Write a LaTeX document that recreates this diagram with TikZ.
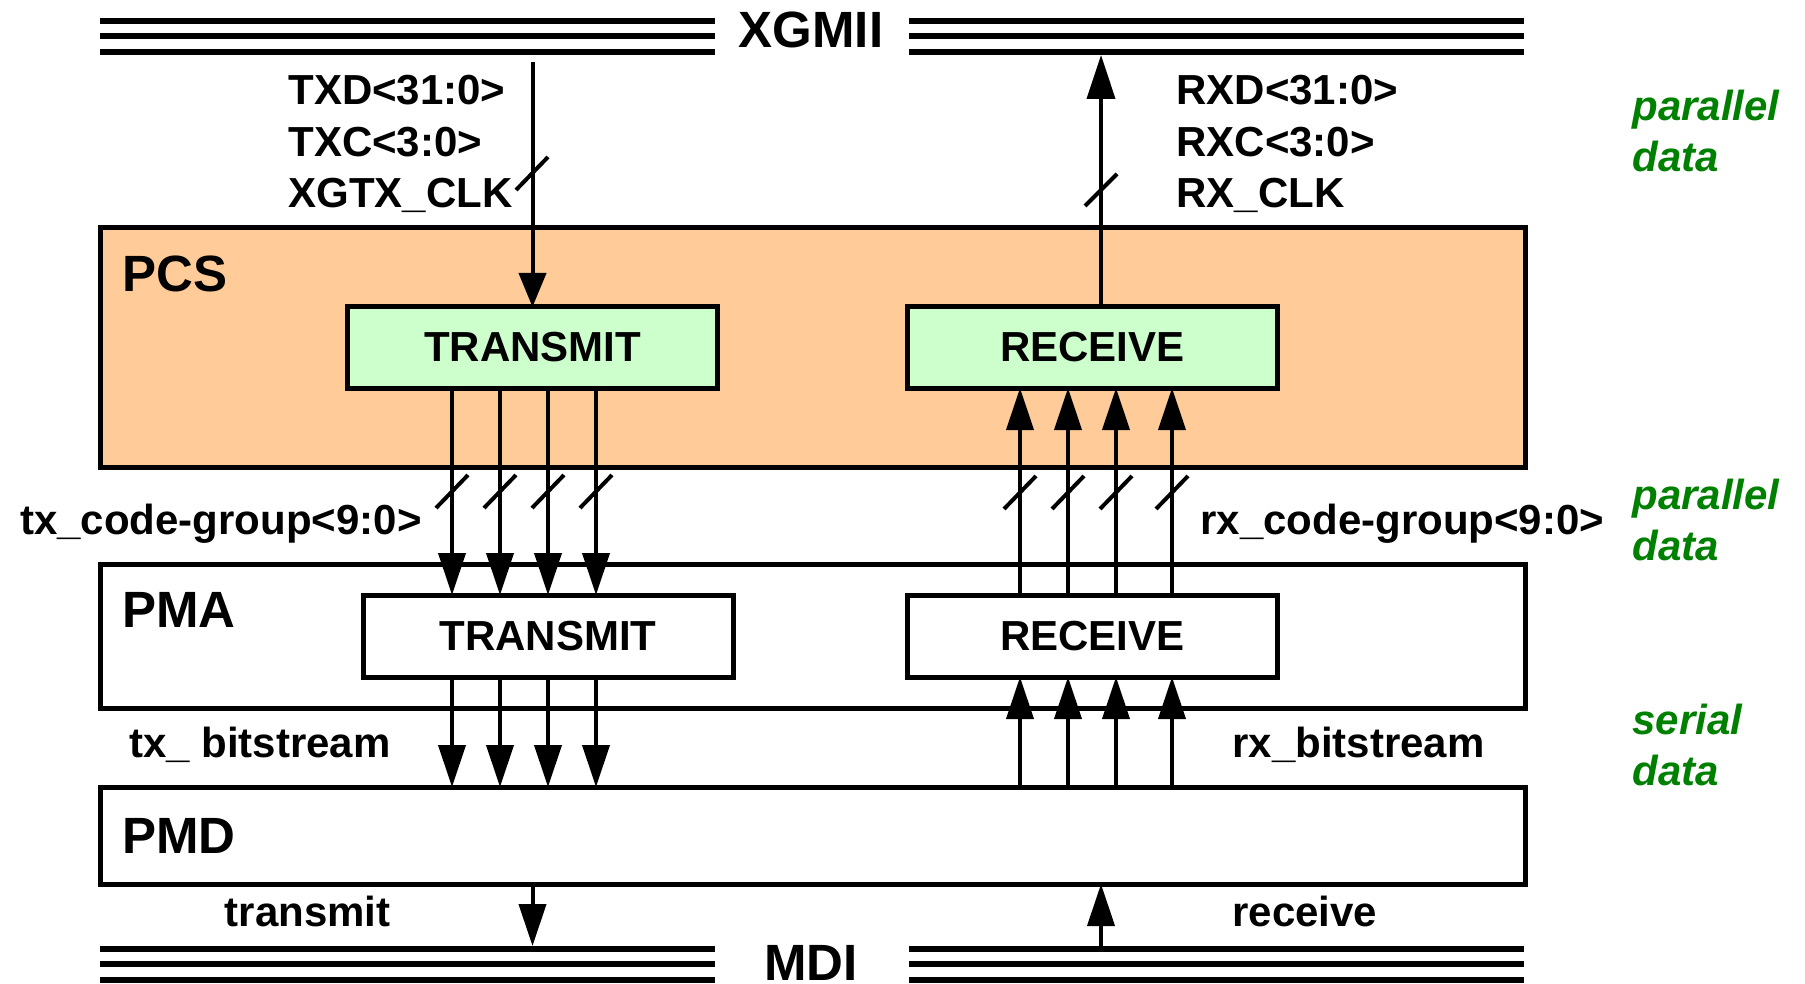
\documentclass[tikz,border=0pt]{standalone}
\usepackage{fontspec}
\setmainfont{Liberation Sans}
\usetikzlibrary{arrows.meta}
\definecolor{pcsfill}{HTML}{FFCC99}
\definecolor{blkfill}{HTML}{CCFFCC}
\definecolor{labgreen}{HTML}{008000}
\begin{document}
\begin{tikzpicture}[x=0.5pt,y=-0.5pt,
  layerbox/.style={draw, line width=2.5pt, inner sep=0pt, outer sep=0pt, minimum width=712.5pt},
  blockbox/.style={draw, line width=2.5pt, inner sep=0pt, outer sep=0pt, minimum width=185pt, minimum height=40.5pt, font=\fontsize{21}{25}\selectfont\bfseries},
  arr/.style={line width=2pt, -{Triangle[length=21pt,width=13.5pt]}},
  slashline/.style={line width=2pt},
  busline/.style={line width=2.75pt},
  sig/.style={inner sep=0pt, font=\fontsize{21}{25}\selectfont\bfseries},
  big/.style={inner sep=0pt, font=\fontsize{25.5}{30}\selectfont\bfseries},
  note/.style={inner sep=0pt, anchor=base west, text=labgreen, font=\fontsize{21}{25}\selectfont\bfseries\itshape},
]
\useasboundingbox (0,0) rectangle (1805,984);

% buses
\foreach \y in {21,36,52,949,964,980} {
  \draw[busline] (100,\y) -- (715,\y);
  \draw[busline] (909,\y) -- (1524,\y);
}
\node[big, anchor=base] (xgmii) at (811,48) {XGMII};
\node[big, anchor=base] (mdi) at (811,980) {MDI};

% layers
\node[layerbox, fill=pcsfill, minimum height=119.5pt] (pcs) at (812.5,347.5) {};
\node[layerbox, fill=white, minimum height=72pt] (pma) at (812.5,636) {};
\node[layerbox, fill=white, minimum height=48.5pt] (pmd) at (812.5,835.5) {};
\node[big, anchor=base west] (pcslab) at (122,292) {PCS};
\node[big, anchor=base west] (pmalab) at (122,627) {PMA};
\node[big, anchor=base west] (pmdlab) at (122,853) {PMD};

% blocks
\node[blockbox, fill=blkfill] (ptx) at (532.5,347.5) {TRANSMIT};
\node[blockbox, fill=blkfill] (prx) at (1092.5,347.5) {RECEIVE};
\node[blockbox, fill=white, minimum height=41pt] (mtx) at (548,636) {TRANSMIT};
\node[blockbox, fill=white, minimum height=41pt] (mrx) at (1092.5,636) {RECEIVE};

% XGMII connections
\coordinate (txin) at (532.5,62);
\coordinate (rxout) at (1101,55);
\draw[line width=2pt, -{Triangle[length=17pt,width=13.5pt]}] (txin) -- (ptx.north);
\draw[line width=2pt, -{Triangle[length=22pt,width=14pt]}] (prx.north -| rxout) -- (rxout);
\draw[slashline] (516,190) -- (548,157);
\draw[slashline] (1085,206) -- (1117,174);

\node[sig, anchor=base west] (txd) at (288,105) {TXD<31:0>};
\node[sig, anchor=base west] (txc) at (288,156.5) {TXC<3:0>};
\node[sig, anchor=base west] (txclk) at (288,208) {XGTX\_CLK};
\node[sig, anchor=base west] (rxd) at (1176,105) {RXD<31:0>};
\node[sig, anchor=base west] (rxc) at (1176,156.5) {RXC<3:0>};
\node[sig, anchor=base west] (rxclk) at (1176,208) {RX\_CLK};

% code groups and bitstreams
\foreach \x in {452,500,548,596} {
  \draw[arr] (ptx.south -| \x,0) -- (mtx.north -| \x,0);
  \draw[arr] (mtx.south -| \x,0) -- (pmd.north -| \x,0);
  \draw[slashline] (\x-16,508) -- (\x+16,475);
}
\foreach \x in {1020,1068,1116,1172} {
  \draw[arr] (mrx.north -| \x,0) -- (prx.south -| \x,0);
  \draw[arr] (pmd.north -| \x,0) -- (mrx.south -| \x,0);
  \draw[slashline] (\x-16,509) -- (\x+16,476);
}
\node[sig, anchor=base east] (txcg) at (422,534) {tx\_code-group<9:0>};
\node[sig, anchor=base west] (rxcg) at (1200,534) {rx\_code-group<9:0>};
\node[sig, anchor=base east] (txbs) at (391,757) {tx\_ bitstream};
\node[sig, anchor=base west] (rxbs) at (1232,757) {rx\_bitstream};

% MDI connections
\coordinate (mditx) at (532.5,946);
\coordinate (mdirx) at (1101,946);
\draw[arr] (pmd.south -| mditx) -- (mditx);
\draw[arr] (mdirx) -- (pmd.south -| mdirx);
\node[sig, anchor=base east] (txlab) at (391,926) {transmit};
\node[sig, anchor=base west] (rxlab) at (1232,926) {receive};

% side notes
\node[note] (n1a) at (1632,121) {parallel};
\node[note] (n1b) at (1632,172) {data};
\node[note] (n2a) at (1632,509) {parallel};
\node[note] (n2b) at (1632,560) {data};
\node[note] (n3a) at (1632,734) {serial};
\node[note] (n3b) at (1632,785) {data};
\end{tikzpicture}
\end{document}
